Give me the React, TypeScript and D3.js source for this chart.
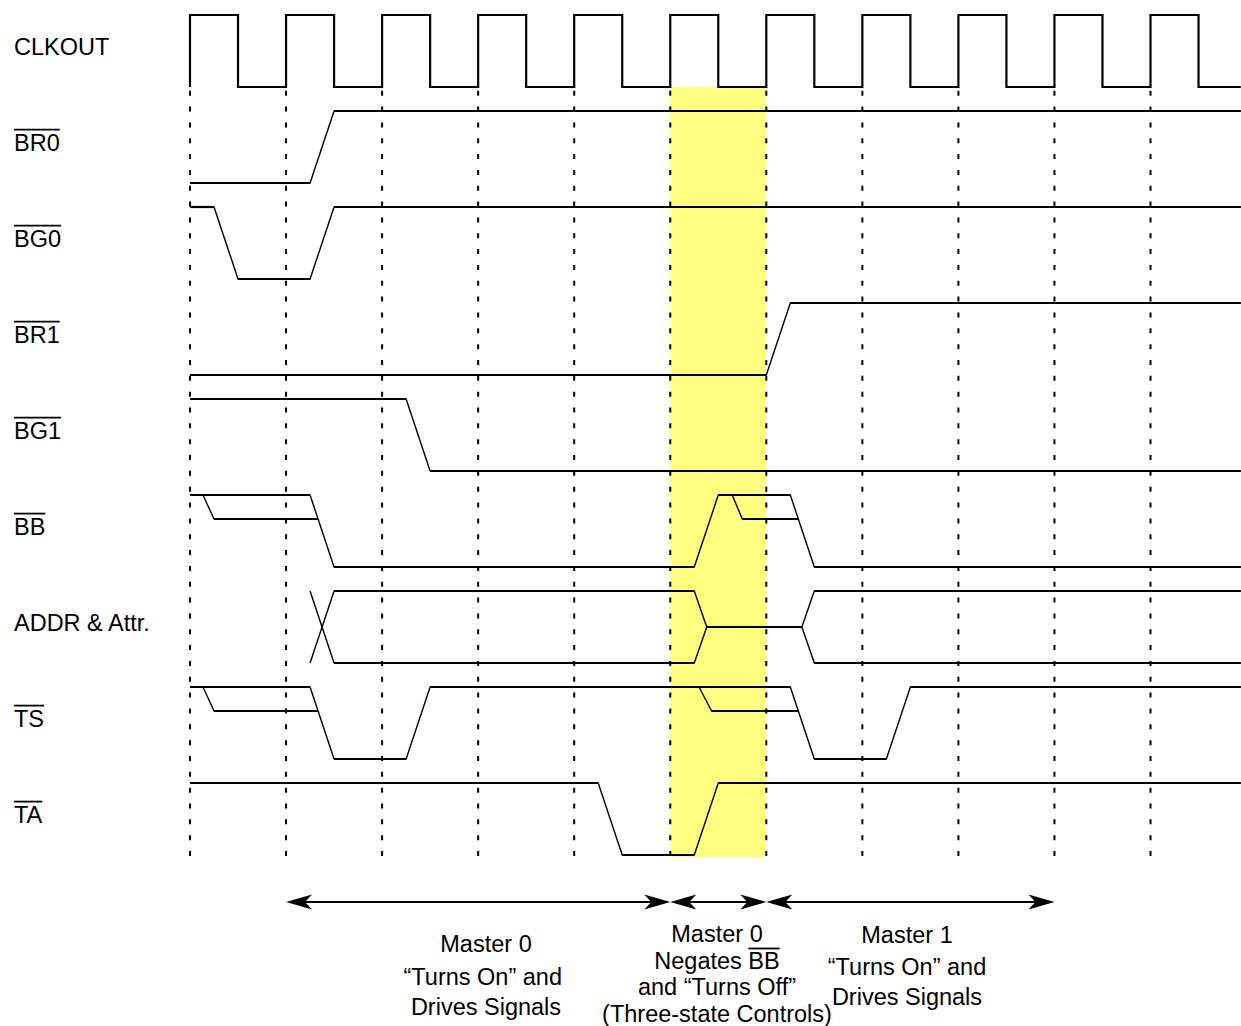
import React from "react";
import * as d3 from "d3";

// ---- data ----
const CLOCK_CYCLES = [0, 1, 2, 3, 4, 5, 6, 7, 8, 9, 10];
const CLOCK_DUTY = 0.5;
const T_END = 10.94;
const HIGHLIGHT = [5, 6];

const SIGNAL_NAMES = ["CLKOUT", "BR0", "BG0", "BR1", "BG1", "BB", "ADDR & Attr.", "TS", "TA"];
const ACTIVE_LOW = [false, true, true, true, true, true, false, true, true];

type Pt = [number, number];
const BR0_WAVE: Pt[] = [[0, 0], [1.25, 0], [1.5, 1], [T_END, 1]];
const BG0_WAVE: Pt[] = [[0, 1], [0.25, 1], [0.5, 0], [1.25, 0], [1.5, 1], [T_END, 1]];
const BR1_WAVE: Pt[] = [[0, 0], [6, 0], [6.25, 1], [T_END, 1]];
const BG1_WAVE: Pt[] = [[0, 1], [2.25, 1], [2.5, 0], [T_END, 0]];
const BB_MAIN: Pt[] = [[0, 1], [1.25, 1], [1.5, 0], [5.25, 0], [5.5, 1], [6.25, 1], [6.5, 0], [T_END, 0]];
const BB_FLOAT_A: Pt[] = [[0.135, 1], [0.25, 2 / 3], [1.333, 2 / 3]];
const BB_FLOAT_B: Pt[] = [[5.645, 1], [5.75, 2 / 3], [6.333, 2 / 3]];
const ADDR_TOP: Pt[] = [[1.25, 0], [1.5, 1], [5.25, 1], [5.38, 0.5], [6.37, 0.5], [6.5, 1], [T_END, 1]];
const ADDR_BOTTOM: Pt[] = [[1.25, 1], [1.5, 0], [5.25, 0], [5.38, 0.5], [6.37, 0.5], [6.5, 0], [T_END, 0]];
const TS_MAIN: Pt[] = [[0, 1], [1.25, 1], [1.5, 0], [2.25, 0], [2.5, 1], [6.25, 1], [6.5, 0], [7.25, 0], [7.5, 1], [T_END, 1]];
const TS_FLOAT_A: Pt[] = [[0.135, 1], [0.25, 2 / 3], [1.333, 2 / 3]];
const TS_FLOAT_B: Pt[] = [[5.3, 1], [5.43, 2 / 3], [6.333, 2 / 3]];
const TA_WAVE: Pt[] = [[0, 1], [4.25, 1], [4.5, 0], [5.25, 0], [5.5, 1], [T_END, 1]];

const PHASE_SPANS: [number, number][] = [[1, 5], [5, 6], [6, 9]];
const PHASE_LEFT = ["Master 0", "“Turns On” and\u00a0", "Drives Signals"];
const PHASE_MID = ["Master 0", "Negates |BB", "and “Turns Off”", "(Three-state Controls)"];
const PHASE_RIGHT = ["Master 1", "“Turns On” and", "Drives Signals"];

// ---- layout ----
const W = 1241, H = 1026;
const FONT = '"Liberation Sans", Arial, Helvetica, sans-serif';
const FS = 23.5;
const x = d3.scaleLinear().domain([0, 1]).range([190, 286.05]);
const rowTop = (i: number) => 15 + 96 * i;
const yRow = (i: number) => d3.scaleLinear().domain([0, 1]).range([rowTop(i) + 72, rowTop(i)]);

let _ctx: CanvasRenderingContext2D | null = null;
function measure(t: string) {
  if (!_ctx) _ctx = document.createElement("canvas").getContext("2d");
  if (!_ctx) return t.length * FS * 0.6;
  _ctx.font = `${FS}px "Liberation Sans"`;
  return _ctx.measureText(t).width;
}

function Wave({ pts, row }: { pts: Pt[]; row: number }) {
  const y = yRow(row);
  const line = d3.line<Pt>().x((d) => x(d[0])).y((d) => y(d[1]));
  const horiz: React.ReactNode[] = [];
  for (let k = 0; k < pts.length - 1; k++) {
    const a = pts[k], b = pts[k + 1];
    if (a[1] === b[1]) {
      horiz.push(
        <line key={k} x1={x(a[0])} x2={x(b[0])} y1={y(a[1])} y2={y(b[1])} stroke="#000" strokeWidth={2.2} />
      );
    }
  }
  return (
    <g>
      <path d={line(pts) || ""} fill="none" stroke="#000" strokeWidth={1.4} strokeLinejoin="round" />
      {horiz}
    </g>
  );
}

function Arrowhead({ tipX, y, dir }: { tipX: number; y: number; dir: number }) {
  const L = 26, Hh = 7.5, N = 7;
  const d = `M${tipX},${y} L${tipX - dir * L},${y - Hh} L${tipX - dir * (L - N)},${y} L${tipX - dir * L},${y + Hh} Z`;
  return <path d={d} fill="#000" />;
}

function TextBlock({ lines, cx, baselines }: { lines: string[]; cx: number; baselines: number[] }) {
  return (
    <g>
      {lines.map((ln, i) => {
        const parts = ln.split("|");
        const full = parts.join("");
        const nodes: React.ReactNode[] = [
          <text key="t" x={cx} y={baselines[i]} textAnchor="middle" fontFamily={FONT} fontSize={FS} fill="#000">
            {full}
          </text>,
        ];
        if (parts.length > 1) {
          const w = measure(full);
          const start = cx - w / 2 + measure(parts[0]);
          nodes.push(
            <line key="o" x1={start} x2={cx + w / 2} y1={baselines[i] - 20} y2={baselines[i] - 20} stroke="#000" strokeWidth={1.8} />
          );
        }
        return <g key={i}>{nodes}</g>;
      })}
    </g>
  );
}

export default function App() {
  const clockPts: Pt[] = [];
  CLOCK_CYCLES.forEach((c) => {
    clockPts.push([c, 0], [c, 1], [c + CLOCK_DUTY, 1], [c + CLOCK_DUTY, 0]);
  });
  clockPts.push([T_END, 0]);
  const yc = yRow(0);
  const clockLine = d3.line<Pt>().x((d) => x(d[0])).y((d) => yc(d[1]));

  const waves: { row: number; pts: Pt[] }[] = [
    { row: 1, pts: BR0_WAVE },
    { row: 2, pts: BG0_WAVE },
    { row: 3, pts: BR1_WAVE },
    { row: 4, pts: BG1_WAVE },
    { row: 5, pts: BB_MAIN },
    { row: 5, pts: BB_FLOAT_A },
    { row: 5, pts: BB_FLOAT_B },
    { row: 6, pts: ADDR_TOP },
    { row: 6, pts: ADDR_BOTTOM },
    { row: 7, pts: TS_MAIN },
    { row: 7, pts: TS_FLOAT_A },
    { row: 7, pts: TS_FLOAT_B },
    { row: 8, pts: TA_WAVE },
  ];

  const arrowY = 902;

  return (
    <svg width={W} height={H} style={{ position: "absolute", left: 0, top: 0, background: "#fff" }}>
      <rect x={0} y={0} width={W} height={H} fill="#fff" />
      <rect x={x(HIGHLIGHT[0])} y={87} width={x(HIGHLIGHT[1]) - x(HIGHLIGHT[0])} height={857 - 87} fill="#ffff80" />
      {CLOCK_CYCLES.map((c) => (
        <line key={c} x1={x(c)} x2={x(c)} y1={90.7} y2={857} stroke="#000" strokeWidth={2} strokeDasharray="5 10.84" />
      ))}
      <path d={clockLine(clockPts) || ""} fill="none" stroke="#000" strokeWidth={2.2} strokeLinejoin="miter" />
      {waves.map((w, i) => (
        <Wave key={i} pts={w.pts} row={w.row} />
      ))}
      {SIGNAL_NAMES.map((name, i) => {
        const base = rowTop(i) + 40;
        return (
          <g key={name}>
            <text x={14} y={base} fontFamily={FONT} fontSize={FS} fill="#000">
              {name}
            </text>
            {ACTIVE_LOW[i] && (
              <line x1={14} x2={14 + measure(name)} y1={base - 21.4} y2={base - 21.4} stroke="#000" strokeWidth={1.8} />
            )}
          </g>
        );
      })}
      {PHASE_SPANS.map(([a, b], i) => (
        <g key={i}>
          <line x1={x(a) + 10} x2={x(b) - 10} y1={arrowY} y2={arrowY} stroke="#000" strokeWidth={2} />
          <Arrowhead tipX={x(a)} y={arrowY} dir={-1} />
          <Arrowhead tipX={x(b)} y={arrowY} dir={1} />
        </g>
      ))}
      <TextBlock lines={PHASE_LEFT} cx={486} baselines={[952, 985, 1015]} />
      <TextBlock lines={PHASE_MID} cx={717} baselines={[942, 968.5, 995, 1021.5]} />
      <TextBlock lines={PHASE_RIGHT} cx={907} baselines={[943, 975, 1005]} />
    </svg>
  );
}
